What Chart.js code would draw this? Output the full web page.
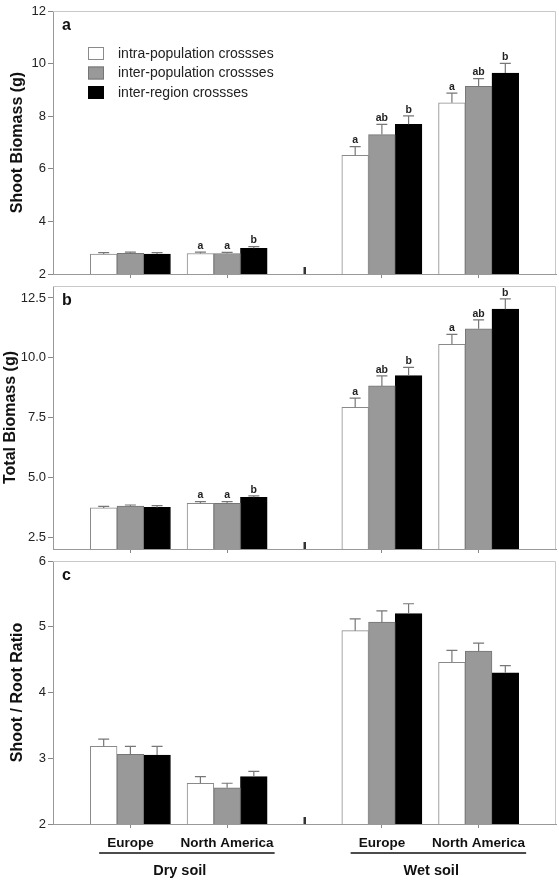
<!DOCTYPE html>
<html>
<head>
<meta charset="utf-8">
<script src="https://cdn.jsdelivr.net/npm/chart.js@4.4.1/dist/chart.umd.min.js"></script>
<style>
body { margin: 0; background: white; }
#conteneur { position: relative; width: 559px; height: 880px; }
#conteneur canvas { position: absolute; left: 0; top: 0; }
</style>
</head>
<body>
<div id="conteneur">
    <canvas id="canvasShoot" width="559" height="880"></canvas>
    <canvas id="canvasTotal" width="559" height="880"></canvas>
    <canvas id="canvasRatio" width="559" height="880"></canvas>
</div>
<script>
const listeGroupes = ["Europe", "North America", "Europe", "North America"]
const listeSols = ["Dry soil", "Wet soil"]
const listeSeries = ["intra-population crossses", "inter-population crossses", "inter-region crossses"]

// a : shoot biomass (g)
const shootIntra = [2.76, 2.78, 6.51, 8.51]
const shootInter = [2.79, 2.78, 7.30, 9.14]
const shootRegion = [2.76, 2.98, 7.69, 9.64]
const shootIntraErr = [0.05, 0.05, 0.33, 0.37]
const shootInterErr = [0.04, 0.04, 0.39, 0.29]
const shootRegionErr = [0.05, 0.06, 0.32, 0.37]
const shootIntraLettres = ["", "a", "a", "a"]
const shootInterLettres = ["", "a", "ab", "ab"]
const shootRegionLettres = ["", "b", "b", "b"]
const shootTicks = [2, 4, 6, 8, 10, 12]

// b : total biomass (g)
const totalIntra = [3.72, 3.91, 7.93, 10.56]
const totalInter = [3.79, 3.91, 8.82, 11.21]
const totalRegion = [3.74, 4.16, 9.25, 12.03]
const totalIntraErr = [0.06, 0.07, 0.38, 0.42]
const totalInterErr = [0.05, 0.07, 0.42, 0.37]
const totalRegionErr = [0.07, 0.06, 0.35, 0.43]
const totalIntraLettres = ["", "a", "a", "a"]
const totalInterLettres = ["", "a", "ab", "ab"]
const totalRegionLettres = ["", "b", "b", "b"]
const totalTicks = [2.5, 5, 7.5, 10, 12.5]

// c : shoot / root ratio
const ratioIntra = [3.18, 2.62, 4.94, 4.46]
const ratioInter = [3.06, 2.55, 5.07, 4.63]
const ratioRegion = [3.05, 2.72, 5.20, 4.30]
const ratioIntraErr = [0.11, 0.10, 0.18, 0.18]
const ratioInterErr = [0.12, 0.07, 0.17, 0.12]
const ratioRegionErr = [0.13, 0.08, 0.15, 0.11]
const ratioTicks = [2, 3, 4, 5, 6]

// mise en page de l'axe x (unités de l'axe, pas des données)
const posGroupes = [0, 5, 13, 18]
const posCoupure = 9
const xMin = -4
const xMax = 22

const couleurs = ["#ffffff", "#999999", "#000000"]
const bordures = ["#8a8a8a", "#767676", "#000000"]
const police = "'Liberation Sans', Arial, sans-serif"

Chart.defaults.font.family = police
Chart.defaults.color = "#222"

// dessin du cadre, des barres d'erreur, des lettres, de la légende...
const pluginDecor = {
    id: "decor",
    afterDatasetsDraw(chart, args, opts) {
        let ctx = chart.ctx
        let zone = chart.chartArea
        let axeX = chart.scales.x
        let axeY = chart.scales.y
        ctx.save()

        // cadre haut et droite
        ctx.strokeStyle = "#c8c8c8"
        ctx.lineWidth = 1
        ctx.beginPath()
        ctx.moveTo(zone.left, zone.top + 0.5)
        ctx.lineTo(zone.right - 0.5, zone.top + 0.5)
        ctx.lineTo(zone.right - 0.5, zone.bottom)
        ctx.stroke()

        // petite marque de coupure entre sec et humide
        ctx.fillStyle = "#333"
        ctx.fillRect(axeX.getPixelForValue(posCoupure) - 1, zone.bottom - 7, 2.5, 7)

        // barres d'erreur + lettres
        chart.data.datasets.forEach((dataset, i) => {
            let meta = chart.getDatasetMeta(i)
            meta.data.forEach((barre, j) => {
                let haut = axeY.getPixelForValue(dataset.data[j].y + dataset.erreurs[j])
                ctx.strokeStyle = "#777"
                ctx.lineWidth = 1.2
                ctx.beginPath()
                ctx.moveTo(barre.x, barre.y)
                ctx.lineTo(barre.x, haut)
                ctx.moveTo(barre.x - 5.5, haut)
                ctx.lineTo(barre.x + 5.5, haut)
                ctx.stroke()
                if (dataset.lettres && dataset.lettres[j] != "") {
                    ctx.fillStyle = "#222"
                    ctx.font = "bold 10.5px " + police
                    ctx.textAlign = "center"
                    ctx.textBaseline = "bottom"
                    ctx.fillText(dataset.lettres[j], barre.x, haut - 1)
                }
            })
        })

        // lettre du panneau
        ctx.fillStyle = "#111"
        ctx.font = "bold 16px " + police
        ctx.textAlign = "left"
        ctx.textBaseline = "middle"
        ctx.fillText(opts.lettre, zone.left + 9, zone.top + 15)

        // légende dans le panneau a
        if (opts.legende) {
            chart.data.datasets.forEach((dataset, k) => {
                let bx = zone.left + 35
                let by = zone.top + 36 + k * 19.5
                ctx.fillStyle = dataset.backgroundColor
                ctx.fillRect(bx, by, 16, 13)
                ctx.strokeStyle = dataset.borderColor
                ctx.lineWidth = 1
                ctx.strokeRect(bx + 0.5, by + 0.5, 15, 12)
                ctx.fillStyle = "#222"
                ctx.font = "14px " + police
                ctx.textAlign = "left"
                ctx.textBaseline = "middle"
                ctx.fillText(dataset.label, bx + 30, by + 7)
            })
        }

        // soulignement et type de sol sous le panneau c
        if (opts.sols) {
            ctx.font = "bold 13.5px " + police
            for (let s = 0; s < listeSols.length; s++) {
                let xE = axeX.getPixelForValue(posGroupes[2 * s])
                let xNA = axeX.getPixelForValue(posGroupes[2 * s + 1])
                let lE = ctx.measureText(listeGroupes[2 * s]).width
                let lNA = ctx.measureText(listeGroupes[2 * s + 1]).width
                ctx.strokeStyle = "#111"
                ctx.lineWidth = 1.5
                ctx.beginPath()
                ctx.moveTo(xE - lE / 2 - 8, zone.bottom + 29)
                ctx.lineTo(xNA + lNA / 2 + 1, zone.bottom + 29)
                ctx.stroke()
                ctx.save()
                ctx.fillStyle = "#111"
                ctx.font = "bold 14.5px " + police
                ctx.textAlign = "center"
                ctx.textBaseline = "middle"
                ctx.fillText(listeSols[s], (xE + xNA) / 2 + 1, zone.bottom + 47)
                ctx.restore()
            }
        }
        ctx.restore()
    }
}

function creerPanneau(idCanvas, series, erreurs, lettres, ticksY, yMin, yMax, formatY, titreY, padTitre, lettrePanneau, haut, bas, hauteurX, avecLabels, legende, sols) {
    let datasets = []
    for (let i = 0; i < series.length; i++) {
        datasets.push({
            label: listeSeries[i],
            data: posGroupes.map((p, j) => ({x: p, y: series[i][j]})),
            erreurs: erreurs[i],
            lettres: lettres ? lettres[i] : null,
            backgroundColor: couleurs[i],
            borderColor: bordures[i],
            borderWidth: 1,
            barThickness: 26.7
        })
    }
    let canvas = document.getElementById(idCanvas)
    return new Chart(canvas, {
        type: "bar",
        data: { datasets: datasets },
        plugins: [pluginDecor],
        options: {
            responsive: false,
            animation: false,
            devicePixelRatio: 1,
            layout: { padding: { top: haut, bottom: bas, left: 0, right: 3 } },
            scales: {
                x: {
                    type: "linear",
                    min: xMin,
                    max: xMax,
                    offset: false,
                    afterBuildTicks: (axe) => { axe.ticks = posGroupes.map(v => ({value: v})) },
                    afterFit: (axe) => { axe.height = hauteurX },
                    ticks: {
                        display: avecLabels,
                        autoSkip: false,
                        maxRotation: 0,
                        padding: 7,
                        color: "#111",
                        font: { size: 13.5, weight: "bold" },
                        callback: (v, i) => listeGroupes[i]
                    },
                    grid: { drawOnChartArea: false, offset: false, tickLength: 4, color: "#888" },
                    border: { color: "#999" }
                },
                y: {
                    min: yMin,
                    max: yMax,
                    afterBuildTicks: (axe) => { axe.ticks = ticksY.map(v => ({value: v})) },
                    afterFit: (axe) => { axe.width = 53 },
                    ticks: {
                        padding: 2,
                        color: "#222",
                        font: { size: 13 },
                        callback: formatY
                    },
                    grid: { drawOnChartArea: false, tickLength: 5, color: "#888" },
                    border: { color: "#999" },
                    title: {
                        display: true,
                        text: titreY,
                        color: "#111",
                        font: { size: 16, weight: "bold" },
                        padding: { top: padTitre, bottom: 0 }
                    }
                }
            },
            plugins: {
                legend: { display: false },
                tooltip: { enabled: false },
                decor: { lettre: lettrePanneau, legende: legende, sols: sols }
            }
        }
    })
}

creerPanneau("canvasShoot",
    [shootIntra, shootInter, shootRegion],
    [shootIntraErr, shootInterErr, shootRegionErr],
    [shootIntraLettres, shootInterLettres, shootRegionLettres],
    shootTicks, 2, 12, v => String(v), "Shoot Biomass (g)", 8, "a",
    11, 880 - 274, 0, false, true, false)

creerPanneau("canvasTotal",
    [totalIntra, totalInter, totalRegion],
    [totalIntraErr, totalInterErr, totalRegionErr],
    [totalIntraLettres, totalInterLettres, totalRegionLettres],
    totalTicks, 2, 13, v => Number(v).toFixed(1), "Total Biomass (g)", 0.5, "b",
    286, 880 - 549, 0, false, false, false)

creerPanneau("canvasRatio",
    [ratioIntra, ratioInter, ratioRegion],
    [ratioIntraErr, ratioInterErr, ratioRegionErr],
    null,
    ratioTicks, 2, 6, v => String(v), "Shoot / Root Ratio", 8, "c",
    561, 880 - 824 - 40, 40, true, false, true)
</script>
</body>
</html>
